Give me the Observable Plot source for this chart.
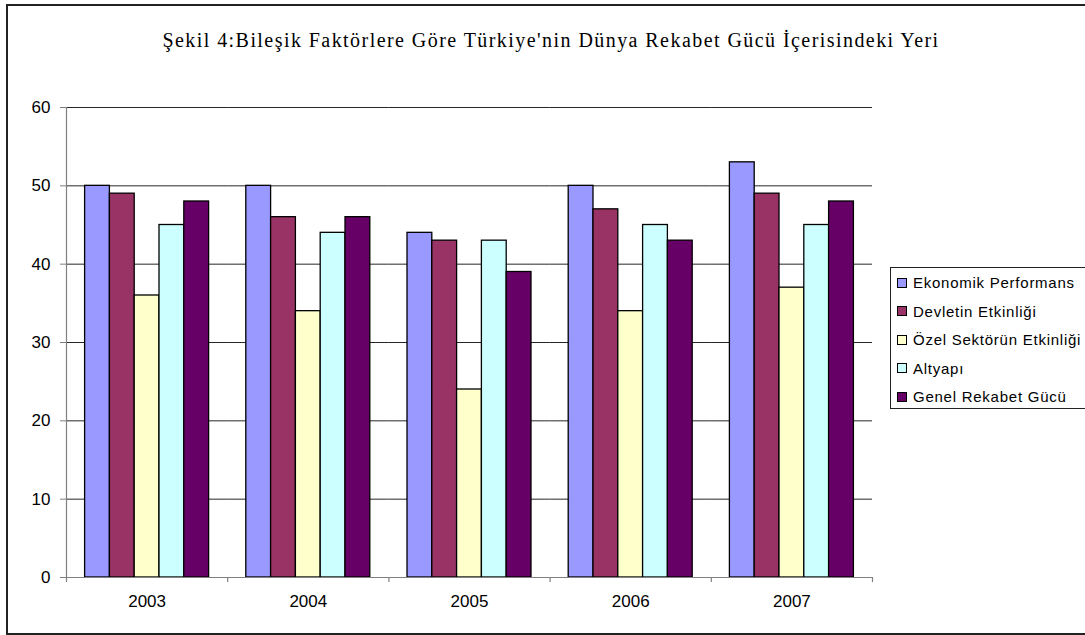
<!DOCTYPE html>
<html><head><meta charset="utf-8">
<script src="https://cdn.jsdelivr.net/npm/d3@7"></script>
<script src="https://cdn.jsdelivr.net/npm/@observablehq/plot@0.6"></script>
<style>
html,body{margin:0;padding:0;background:#fff;overflow:hidden;}
#wrap{position:relative;width:1085px;height:635px;overflow:hidden;background:#fff;}
#border{position:absolute;left:6px;top:4px;width:1100px;height:631px;border:2px solid #222;box-sizing:border-box;}
#title{position:absolute;left:7px;width:1088px;top:29px;line-height:22px;text-align:center;font-family:"Liberation Serif","Times New Roman",serif;font-size:20px;letter-spacing:1.44px;color:#000;white-space:nowrap;}
#chart{position:absolute;left:0;top:60px;}
#legend{position:absolute;left:890px;top:267px;width:200px;height:142px;border:1px solid #222;box-sizing:border-box;padding-top:0.5px;font-family:"Liberation Sans",Arial,sans-serif;font-size:15px;letter-spacing:0.75px;color:#000;background:#fff;}
.item{height:28.5px;display:flex;align-items:center;white-space:nowrap;}
.sw{width:8px;height:8px;border:1px solid #000;margin-left:6px;margin-right:6px;flex:none;}
</style>
</head><body>
<div id="wrap">
  <div id="border"></div>
  <div id="title"></div>
  <div id="chart"></div>
  <div id="legend"></div>
</div>
<script>
const titleText = "Şekil 4:Bileşik Faktörlere Göre Türkiye'nin Dünya Rekabet Gücü İçerisindeki Yeri";
const years = ["2003", "2004", "2005", "2006", "2007"];
const series = ["Ekonomik Performans", "Devletin Etkinliği", "Özel Sektörün Etkinliği", "Altyapı", "Genel Rekabet Gücü"];
const colors = ["#9999FF", "#993366", "#FFFFCC", "#CCFFFF", "#660066"];
const ekonomikPerformans = [50, 50, 44, 50, 53];
const devletinEtkinligi = [49, 46, 43, 47, 49];
const ozelSektorunEtkinligi = [36, 34, 24, 34, 37];
const altyapi = [45, 44, 43, 45, 45];
const genelRekabetGucu = [48, 46, 39, 43, 48];
const yTicks = [0, 10, 20, 30, 40, 50, 60];

const seriesValues = [ekonomikPerformans, devletinEtkinligi, ozelSektorunEtkinligi, altyapi, genelRekabetGucu];
const data = years.flatMap((yr, i) => series.map((s, j) => ({year: yr, series: s, value: seriesValues[j][i]})));

document.getElementById("title").textContent = titleText;

const W = 1085, H = 575, mL = 66, mR = 213, mT = 47, mB = 58;
const pad = 0.75;
const facetW = (W - mL - mR) / years.length;
const step = facetW / (series.length + 2 * pad);
const edge = step * (pad + 0.5);
const firsts = years.map(yr => ({year: yr, series: series[0]}));
const lasts = [{year: years[years.length - 1], series: series[series.length - 1]}];

const chart = Plot.plot({
  width: W, height: H,
  marginLeft: mL, marginRight: mR, marginTop: mT, marginBottom: mB,
  style: {fontFamily: "'Liberation Sans', Arial, sans-serif", fontSize: "17px", color: "#000", background: "transparent", overflow: "visible"},
  fx: {domain: years, padding: 0, round: false},
  x: {domain: series, paddingInner: 0, paddingOuter: pad, round: false, axis: null},
  y: {domain: [0, 60]},
  color: {domain: series, range: colors},
  marks: [
    Plot.gridY(yTicks.slice(1), {stroke: "#000", strokeOpacity: 0.85, strokeWidth: 1}),
    Plot.barY(data, {fx: "year", x: "series", y: "value", fill: "series", stroke: "#000", strokeWidth: 1.3}),
    Plot.ruleY([0], {stroke: "#808080", strokeWidth: 1.2}),
    Plot.ruleX(firsts.slice(0, 1), {fx: "year", x: "series", y1: 0, y2: 60, dx: -edge, stroke: "#808080", strokeWidth: 1.2}),
    Plot.ruleX(firsts, {fx: "year", x: "series", y1: 0, y2: -0.65, dx: -edge, stroke: "#808080", strokeWidth: 1.2}),
    Plot.ruleX(lasts, {fx: "year", x: "series", y1: 0, y2: -0.65, dx: edge, stroke: "#808080", strokeWidth: 1.2}),
    Plot.axisY({ticks: yTicks, tickSize: 6, tickPadding: 10, label: null, stroke: "#808080", fill: "#000", fontSize: 17}),
    Plot.axisFx({anchor: "bottom", tickSize: 0, tickPadding: 17, label: null, fill: "#000", fontSize: 17})
  ]
});
document.getElementById("chart").appendChild(chart);

const legend = document.getElementById("legend");
series.forEach((s, i) => {
  const item = document.createElement("div");
  item.className = "item";
  const sw = document.createElement("span");
  sw.className = "sw";
  sw.style.background = colors[i];
  const t = document.createElement("span");
  t.textContent = s;
  item.appendChild(sw);
  item.appendChild(t);
  legend.appendChild(item);
});
</script>
</body></html>
